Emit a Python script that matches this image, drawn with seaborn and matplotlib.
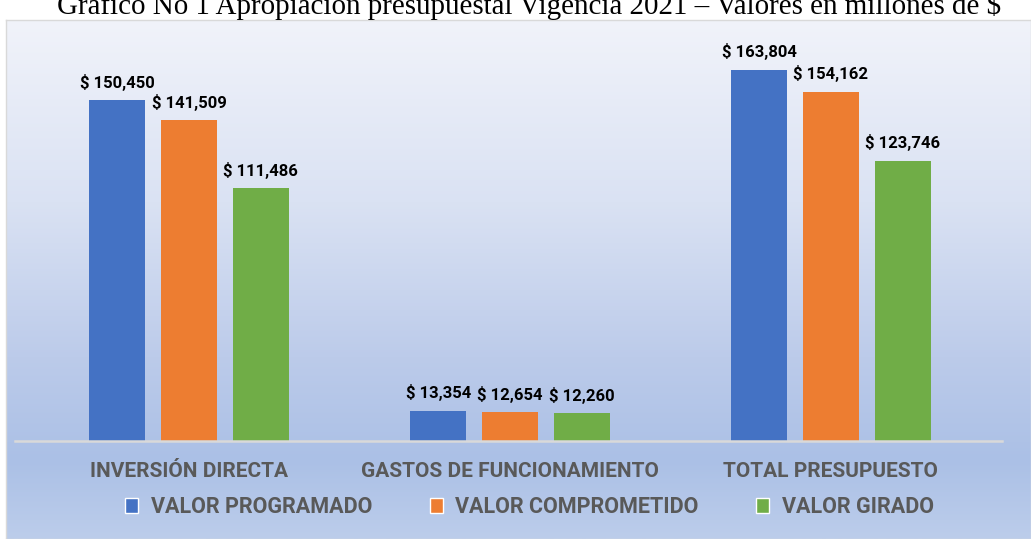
import matplotlib.pyplot as plt
import matplotlib.colors as mcolors
from matplotlib.patches import Patch
import seaborn as sns
import numpy as np
import pandas as pd

# data (millones de $)
categorias = ['INVERSIÓN DIRECTA', 'GASTOS DE FUNCIONAMIENTO', 'TOTAL PRESUPUESTO']
series = ['VALOR PROGRAMADO', 'VALOR COMPROMETIDO', 'VALOR GIRADO']
programado = [150450, 13354, 163804]
comprometido = [141509, 12654, 154162]
girado = [111486, 12260, 123746]
colores = ['#4472C4', '#ED7D31', '#70AD47']
titulo = 'Gráfico No 1 Apropiación presupuestal Vigencia 2021 – Valores en millones de $'

df = pd.DataFrame({
    'categoria': categorias * 3,
    'serie': [s for s in series for _ in categorias],
    'valor': programado + comprometido + girado,
})

sns.set_style('white')
plt.rcParams['font.family'] = ['Roboto', 'DejaVu Sans']

W, H = 1031, 539
fig = plt.figure(figsize=(W / 100, H / 100), dpi=100)

# gradient background of the chart area
top_px = 20
bg = fig.add_axes([6 / W, 0, (W - 6) / W, (H - top_px) / H])
grad = mcolors.LinearSegmentedColormap.from_list(
    'fondo', [(0, '#f1f3fa'), (0.35, '#dae2f3'), (0.65, '#bccbea'),
              (0.85, '#abc0e6'), (1, '#bccdeb')])
bg.imshow(np.linspace(0, 1, 256).reshape(-1, 1), cmap=grad, aspect='auto',
          extent=(0, 1, 0, 1), origin='upper')
bg.set_xticks([])
bg.set_yticks([])
for s in bg.spines.values():
    s.set_color('#d9d9d9')
    s.set_linewidth(1)

ax = fig.add_axes([15 / W, 98 / H, 987 / W, 407.7 / H])
ax.patch.set_alpha(0)
sns.barplot(data=df, x='categoria', y='valor', hue='serie', palette=colores,
            width=0.67, gap=0.22, saturation=1, ax=ax, legend=False,
            linewidth=0)
ax.set_xlim(-0.542, 2.533)
ax.set_ylim(0, 180000)

for cont in ax.containers:
    ax.bar_label(cont, labels=[f'$ {v:,.0f}' for v in cont.datavalues],
                 padding=7, fontsize=12, fontweight='bold', color='black')

for side in ['top', 'left', 'right']:
    ax.spines[side].set_visible(False)
ax.spines['bottom'].set_color('#d9d9d9')
ax.spines['bottom'].set_linewidth(1.8)
ax.set_yticks([])
ax.set_xlabel('')
ax.set_ylabel('')
ax.tick_params(axis='x', length=0, pad=15)
for lbl in ax.get_xticklabels():
    lbl.set_fontsize(15)
    lbl.set_fontweight('bold')
    lbl.set_color('#595959')

handles = [Patch(facecolor=c) for c in colores]
fig.legend(handles, series, loc='center', bbox_to_anchor=(529.5 / W, 32 / H),
           ncol=3, frameon=False, handlelength=0.6, handleheight=0.7,
           handletextpad=0.6, columnspacing=2.65,
           prop={'size': 15.5, 'weight': 'bold'}, labelcolor='#595959')

fig.text(529 / W, (H - 14) / H, titulo, ha='center', va='baseline',
         fontsize=20.9, family='Liberation Serif', color='black')

plt.savefig('out.png', dpi=100)
